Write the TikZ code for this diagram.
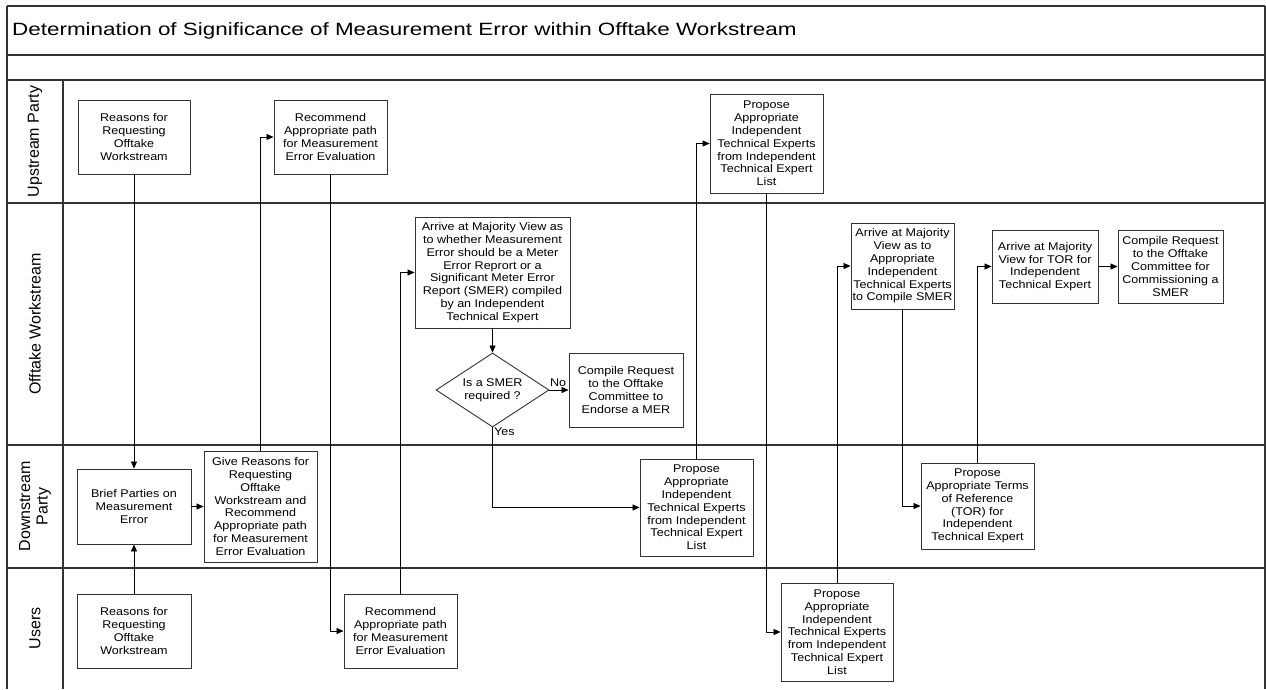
\documentclass[tikz,border=0pt]{standalone}
\usepackage{fontspec}
\setmainfont{Liberation Sans}
\newfontfamily\boxfont{Liberation Sans}[FakeStretch=1.12]
\newfontfamily\titlefont{Liberation Sans}[FakeStretch=1.26]
\usetikzlibrary{arrows.meta,shapes.geometric}
\begin{document}
\begin{tikzpicture}[x=1pt,y=-1pt,
  box/.style={draw=black!80, line width=0.9pt, fill=white, align=center, inner sep=1pt, font=\boxfont\fontsize{11.2}{12.8}\selectfont},
  flow/.style={draw=black, line width=0.8pt, -{Triangle[length=7pt,width=6pt]}},
  lane/.style={draw=black!80, line width=1.2pt},
  lanelabel/.style={rotate=90, align=center, font=\fontsize{16}{17.5}\selectfont},
  small/.style={font=\boxfont\fontsize{11.2}{12.8}\selectfont, inner sep=1.5pt}]
\useasboundingbox (0,0) rectangle (1266,689);
% frame and lanes
\draw[lane] (7,6) -- (1265,6);
\draw[lane] (7,55) -- (1265,55);
\draw[lane] (7,80) -- (1265,80);
\draw[lane] (7,203) -- (1265,203);
\draw[lane] (7,445) -- (1265,445);
\draw[lane] (7,568) -- (1265,568);
\draw[lane] (7,6) -- (7,689);
\draw[lane] (1265,6) -- (1265,689);
\draw[lane] (63,80) -- (63,689);
\node[anchor=west, font=\titlefont\fontsize{17.8}{20}\selectfont, inner sep=0pt] (title) at (12,31) {Determination of Significance of Measurement Error within Offtake Workstream};
\node[lanelabel] (l1) at (35,141.5) {Upstream Party};
\node[lanelabel] (l2) at (35,324) {Offtake Workstream};
\node[lanelabel] (l3) at (35,506.5) {Downstream\\Party};
\node[lanelabel] (l4) at (35,628.5) {Users};
% Upstream
\node[box, minimum width=112pt, minimum height=74pt] (u1) at (134,137) {Reasons for\\Requesting\\Offtake\\Workstream};
\node[box, minimum width=113pt, minimum height=74pt] (u2) at (330.5,137) {Recommend\\Appropriate path\\for Measurement\\Error Evaluation};
\node[box, minimum width=113pt, minimum height=99pt] (u3) at (766.5,143.5) {Propose\\Appropriate\\Independent\\Technical Experts\\from Independent\\Technical Expert\\List};
% Offtake
\node[box, minimum width=155pt, minimum height=111pt] (o1) at (492.5,272.5) {Arrive at Majority View as\\to whether Measurement\\Error should be a Meter\\Error Reprort or a\\Significant Meter Error\\Report (SMER) compiled\\by an Independent\\Technical Expert};
\node[box, diamond, shape aspect=1.53, inner sep=0pt, minimum width=113pt, minimum height=74pt] (dia) at (492.5,390) {Is a SMER\\required ?};
\node[box, minimum width=114pt, minimum height=74pt] (o2) at (626,390) {Compile Request\\to the Offtake\\Committee to\\Endorse a MER};
\node[box, minimum width=103pt, minimum height=86pt] (o3) at (902.5,266) {Arrive at Majority\\View as to\\Appropriate\\Independent\\Technical Experts\\to Compile SMER};
\node[box, minimum width=106pt, minimum height=73pt] (o4) at (1045,266.5) {Arrive at Majority\\View for TOR for\\Independent\\Technical Expert};
\node[box, minimum width=105pt, minimum height=73pt] (o5) at (1170.5,266.5) {Compile Request\\to the Offtake\\Committee for\\Commissioning a\\SMER};
% Downstream
\node[box, minimum width=114pt, minimum height=75pt] (d1) at (134,506.5) {Brief Parties on\\Measurement\\Error};
\node[box, minimum width=113pt, minimum height=111pt] (d2) at (260.5,506.5) {Give Reasons for\\Requesting\\Offtake\\Workstream and\\Recommend\\Appropriate path\\for Measurement\\Error Evaluation};
\node[box, minimum width=113pt, minimum height=97pt] (d3) at (696.5,507.5) {Propose\\Appropriate\\Independent\\Technical Experts\\from Independent\\Technical Expert\\List};
\node[box, minimum width=113pt, minimum height=86pt] (d4) at (977.5,506) {Propose\\Appropriate Terms\\of Reference\\(TOR) for\\Independent\\Technical Expert};
% Users
\node[box, minimum width=114pt, minimum height=74pt] (r1) at (134,631) {Reasons for\\Requesting\\Offtake\\Workstream};
\node[box, minimum width=113pt, minimum height=74pt] (r2) at (400.5,631) {Recommend\\Appropriate path\\for Measurement\\Error Evaluation};
\node[box, minimum width=112pt, minimum height=98pt] (r3) at (837,632) {Propose\\Appropriate\\Independent\\Technical Experts\\from Independent\\Technical Expert\\List};
% connectors
\draw[flow] (u1.south) -- (d1.north);
\draw[flow] (r1.north) -- (d1.south);
\draw[flow] (d1.east) -- (d2.west);
\draw[flow] (d2.north) |- (u2.west);
\draw[flow] (u2.south) |- (r2.west);
\draw[flow] (r2.north) |- (o1.west);
\draw[flow] (o1.south) -- (dia.north);
\draw[flow] (dia.east) -- (o2.west);
\draw[flow] (dia.south) |- (d3.west);
\draw[flow] (d3.north) |- (u3.west);
\draw[flow] (u3.south) |- (r3.west);
\draw[flow] (r3.north) |- (o3.west);
\draw[flow] (o3.south) |- (d4.west);
\draw[flow] (d4.north) |- (o4.west);
\draw[flow] (o4.east) -- (o5.west);
\node[small, anchor=south west, yshift=2pt, xshift=-1pt] (no) at (dia.east) {No};
\node[small, anchor=north west, yshift=1pt] (yes) at (dia.south) {Yes};
\end{tikzpicture}
\end{document}
